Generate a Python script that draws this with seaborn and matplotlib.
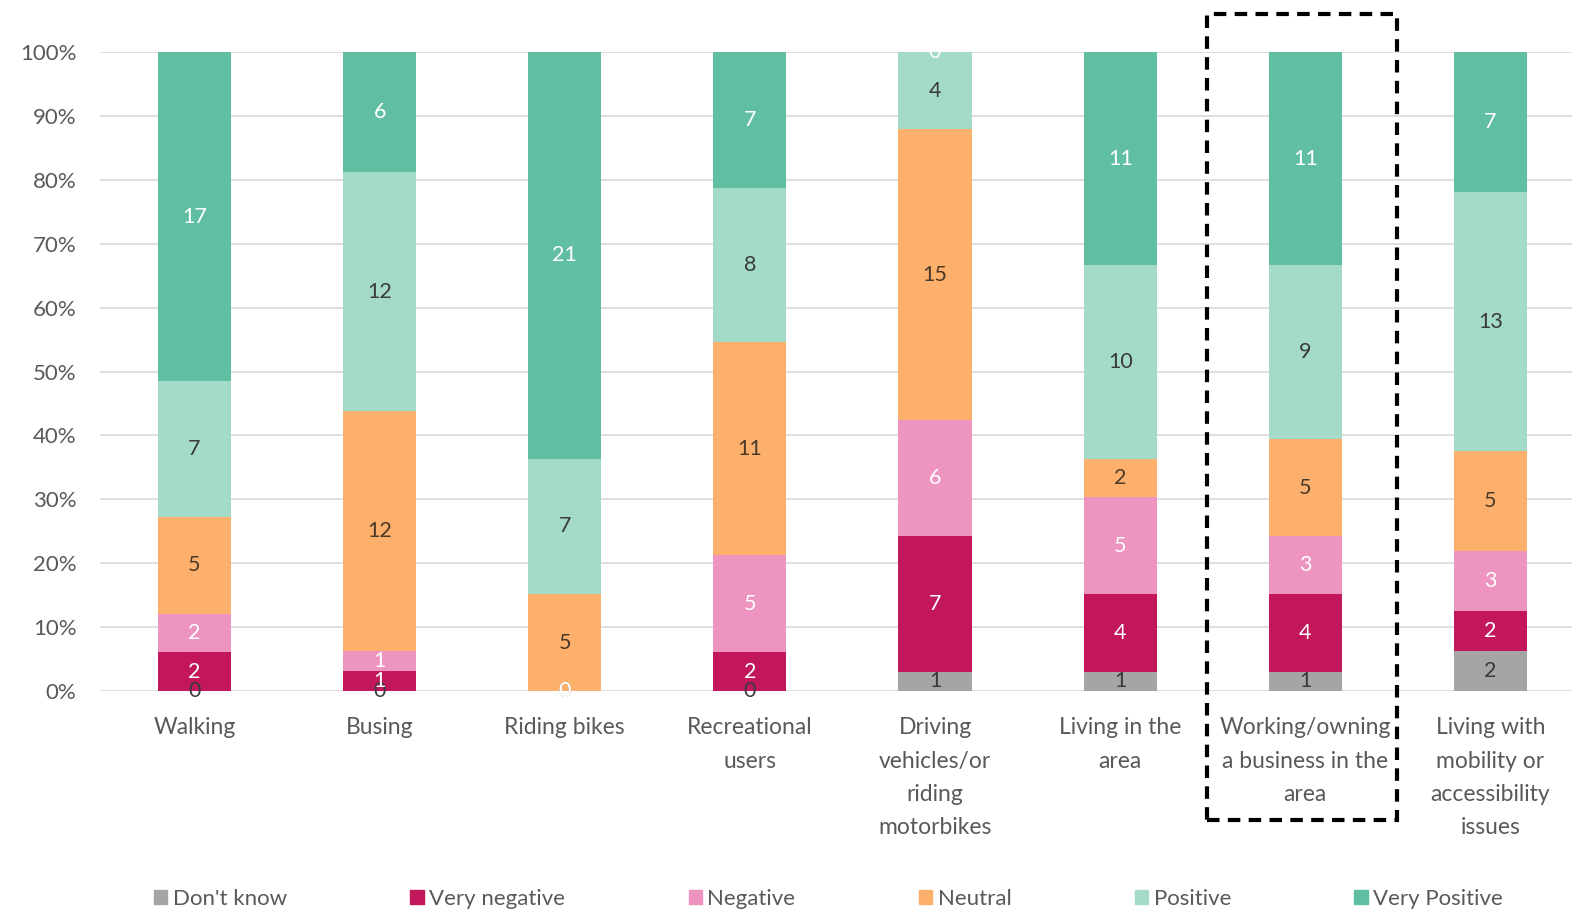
import numpy as np
import pandas as pd
import matplotlib
matplotlib.use("Agg")
import matplotlib.pyplot as plt
from matplotlib.patches import Rectangle
import seaborn as sns

categories = ["Walking", "Busing", "Riding bikes", "Recreational\nusers",
              "Driving\nvehicles/or\nriding\nmotorbikes", "Living in the\narea",
              "Working/owning\na business in the\narea",
              "Living with\nmobility or\naccessibility\nissues"]
series = ["Don't know", "Very negative", "Negative", "Neutral", "Positive", "Very Positive"]
dont_know = [0, 0, 0, 0, 1, 1, 1, 2]
very_negative = [2, 1, 0, 2, 7, 4, 4, 2]
negative = [2, 1, 0, 5, 6, 5, 3, 3]
neutral = [5, 12, 5, 11, 15, 2, 5, 5]
positive = [7, 12, 7, 8, 4, 10, 9, 13]
very_positive = [17, 6, 21, 7, 0, 11, 11, 7]
yticks = [0, 10, 20, 30, 40, 50, 60, 70, 80, 90, 100]

colors = ["#A5A5A5", "#C2185B", "#EE94C0", "#FDB06B", "#A3DAC8", "#60BFA2"]
text_colors = ["#3A3A3A", "white", "white", "#4A3A2A", "#3A3A3A", "white"]

sns.set_theme(style="white")
plt.rcParams['font.family'] = ['Lato', 'DejaVu Sans']

counts = np.array([dont_know, very_negative, negative, neutral, positive, very_positive], dtype=float)
totals = counts.sum(axis=0)
pct = counts / totals * 100
cum = np.cumsum(pct, axis=0)

rows = []
for si, s in enumerate(series):
    for ci, c in enumerate(categories):
        rows.append({"category": c, "series": s, "count": counts[si, ci],
                     "pct": pct[si, ci], "cum": cum[si, ci]})
df = pd.DataFrame(rows)

fig = plt.figure(figsize=(15.72, 9.11), dpi=100)
ax = fig.add_axes([0.0636, 0.2415, 0.9364, 0.7014])

# draw cumulative bars from top series down so each overlays the previous
for si in reversed(range(len(series))):
    sub = df[df["series"] == series[si]]
    sns.barplot(data=sub, x="category", y="cum", order=categories, color=colors[si],
                width=0.395, saturation=1, ax=ax, zorder=3, errorbar=None, linewidth=0)

# segment labels
for si in range(len(series)):
    for ci in range(len(categories)):
        lo = cum[si, ci] - pct[si, ci]
        mid = (lo + cum[si, ci]) / 2
        ax.text(ci, mid, f"{int(counts[si, ci])}", ha="center", va="center",
                fontsize=15.5, color=text_colors[si], zorder=5)

ax.set_xlim(-0.51, 7.44)
ax.set_ylim(0, 100)
ax.set_yticks(yticks)
ax.set_yticklabels([f"{v}%" for v in yticks])
ax.yaxis.grid(True, color="#D9D9D9", linewidth=1.2, zorder=0)
ax.set_axisbelow(True)
for sp in ax.spines.values():
    sp.set_visible(False)
ax.set_xlabel("")
ax.set_ylabel("")
ax.tick_params(axis="y", length=0, pad=17, labelsize=16, labelcolor="#595959")
ax.tick_params(axis="x", length=0, pad=19, labelsize=16.5, labelcolor="#595959")
for lab in ax.get_xticklabels():
    lab.set_linespacing(1.72)
    lab.set_verticalalignment("top")

handles = [plt.Rectangle((0, 0), 1, 1, color=colors[i]) for i in range(len(series))]
leg = fig.legend(handles, series, loc="lower center", bbox_to_anchor=(0.527, -0.02), ncol=6,
                 frameon=False, fontsize=16, handlelength=0.6, handleheight=0.6,
                 handletextpad=0.25, columnspacing=5.55)
for t in leg.get_texts():
    t.set_color("#595959")

rect = Rectangle((1207 / 1572, 1 - 820 / 911), 190 / 1572, (820 - 14) / 911,
                 transform=fig.transFigure, fill=False, edgecolor="black",
                 linewidth=3, linestyle=(0, (3, 2)), zorder=10)
fig.patches.append(rect)

fig.savefig("out.png", dpi=100)
